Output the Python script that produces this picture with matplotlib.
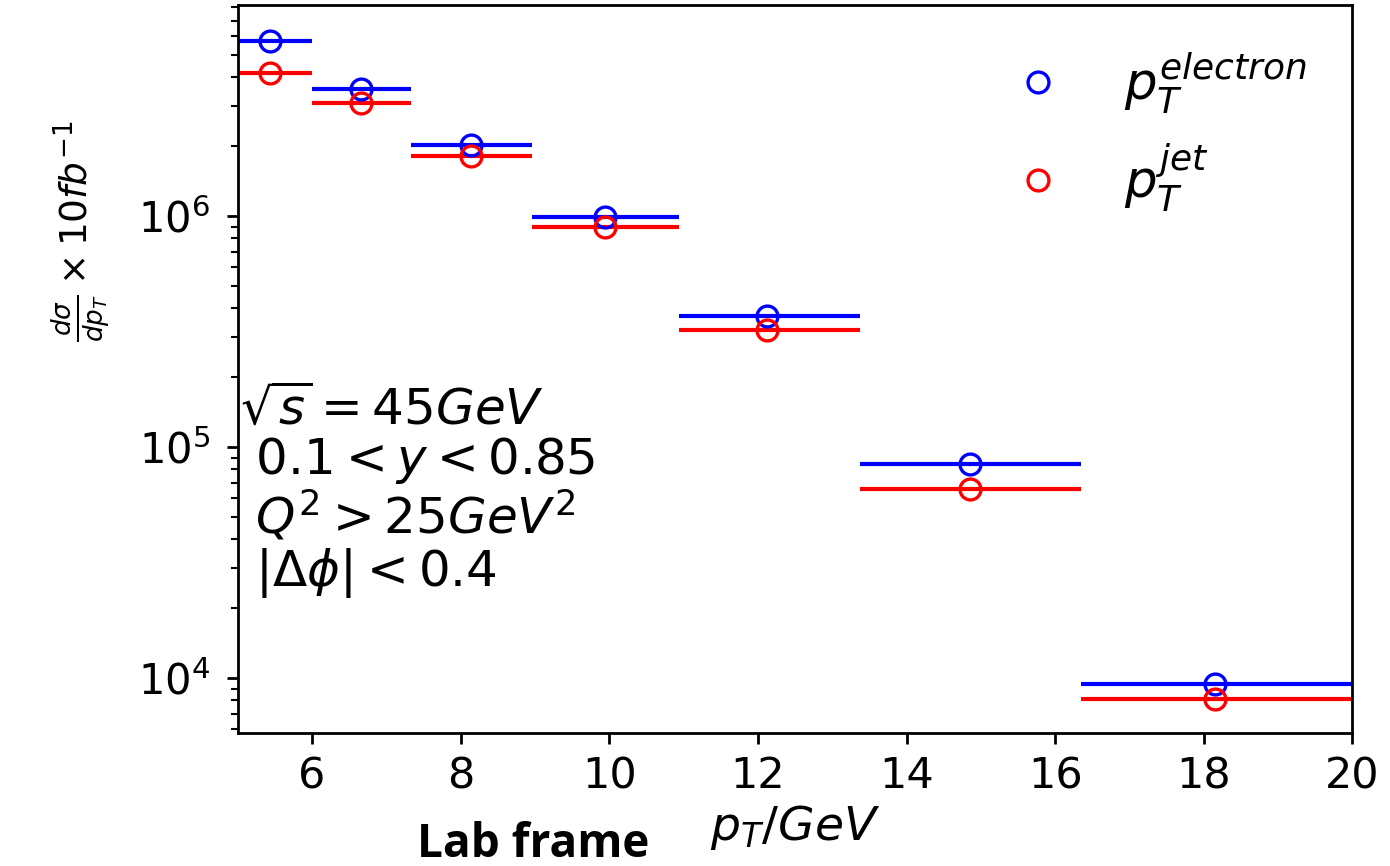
import numpy as np
import matplotlib
matplotlib.use("Agg")
import matplotlib.pyplot as plt

plt.rc("axes", linewidth=2.0)

# bin edges and mean pT in each bin
edges = [5.0, 6.0, 7.33, 8.96, 10.94, 13.38, 16.35, 20.0]
pt_mean = [5.43, 6.66, 8.14, 9.94, 12.12, 14.86, 18.15]

# d sigma / d pT x 10 fb^-1
xs_electron = [5.73e6, 3.55e6, 2.03e6, 9.9e5, 3.69e5, 8.44e4, 9.4e3]
xs_jet = [4.16e6, 3.08e6, 1.82e6, 8.96e5, 3.21e5, 6.58e4, 8.1e3]

fig = plt.figure(figsize=(13.9, 8.66), dpi=100)
ax = fig.add_axes([0.171, 0.1536, 0.802, 0.8404])

lo = np.array(edges[:-1])
hi = np.array(edges[1:])

ax.hlines(xs_electron, lo, hi, colors="blue", lw=3)
ax.hlines(xs_jet, lo, hi, colors="red", lw=3)
ax.plot(pt_mean, xs_electron, "o", mfc="none", mec="blue", ms=15, mew=2.4,
        label=r"$p_T^{electron}$")
ax.plot(pt_mean, xs_jet, "o", mfc="none", mec="red", ms=15, mew=2.4,
        label=r"$p_T^{jet}$")

ax.set_yscale("log")
ax.set_xlim(5, 20)
ax.set_ylim(5.78e3, 8.18e6)

ax.tick_params(axis="x", labelsize=31, length=8, width=2, pad=8)
ax.tick_params(axis="y", which="major", labelsize=30, length=8, width=2, pad=12)
ax.tick_params(axis="y", which="minor", length=5, width=1.5)

ax.set_xlabel(r"$p_T/GeV$", fontsize=34, labelpad=4)
ax.set_ylabel(r"$\frac{d\sigma}{dp_T}\times 10fb^{-1}$", fontsize=27)
ax.yaxis.set_label_coords(-0.113, 0.69)

ax.text(0.002, 0.478,
        "$\\sqrt{s}=45GeV$\n $0.1<y<0.85$\n $Q^2>25GeV^2$\n $|\\Delta\\phi|<0.4$",
        transform=ax.transAxes, fontsize=36, va="top", ha="left",
        linespacing=1.05)

leg = ax.legend(loc="upper right", fontsize=37, frameon=False,
                handletextpad=0.66, markerscale=1.0, borderaxespad=0.5,
                labelspacing=0.5)

fig.text(0.30, 0.025, "Lab frame", fontsize=33, fontweight="bold",
         family="Open Sans", ha="left", va="center")

fig.savefig("out.png", dpi=100)
